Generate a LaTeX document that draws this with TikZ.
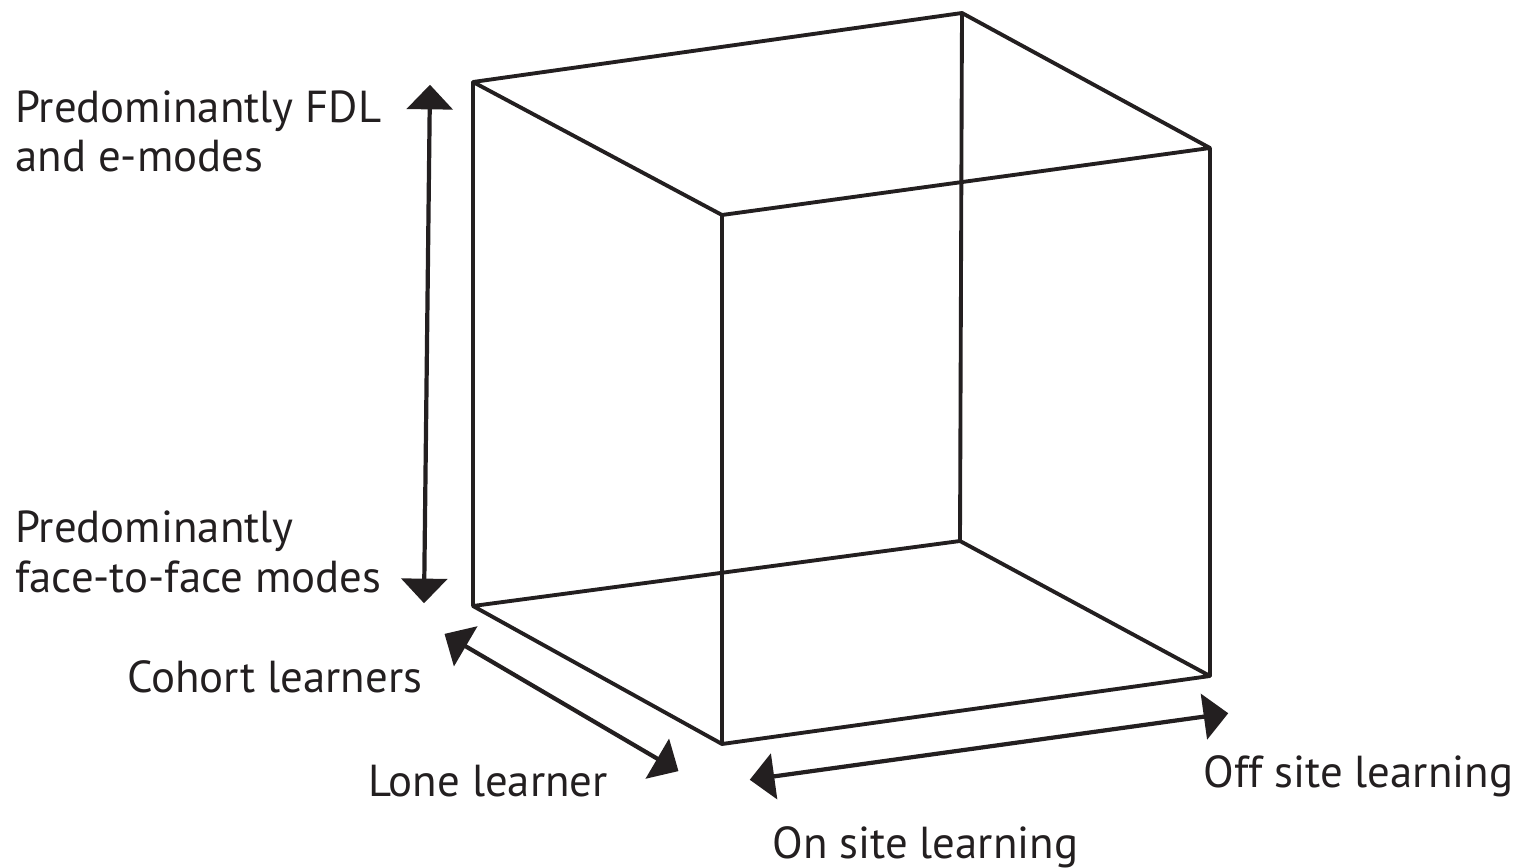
\documentclass[tikz,border=0pt]{standalone}
\usepackage{fontspec}
\setmainfont{PT Sans}
\usetikzlibrary{arrows.meta,positioning}
\definecolor{ink}{HTML}{231F20}

\begin{document}
\begin{tikzpicture}[x=0.02cm,y=-0.02cm,
  cube/.style={draw=ink,line width=2.2pt,line join=round},
  arrw/.style={{Triangle[width=26pt,length=14pt]}-{Triangle[width=26pt,length=14pt]},draw=ink,fill=ink,line width=2.4pt,shorten <=1pt,shorten >=1pt},
  lbl/.style={font=\fontsize{25.5}{28.3}\selectfont,text=ink,align=left,inner sep=0pt}]
\useasboundingbox (0,0) rectangle (1516,868);

% cube corners
\coordinate (tl) at (473,82);   \coordinate (tb) at (962,13);
\coordinate (tr) at (1210,148); \coordinate (tf) at (722,215);
\coordinate (bl) at (473,606);  \coordinate (bb) at (960,541);
\coordinate (br) at (1210,676); \coordinate (bf) at (722,744);

\draw[cube] (tl)--(tb)--(tr)--(tf)--cycle;
\draw[cube] (bl)--(bb)--(br)--(bf)--cycle;
\draw[cube] (tl)--(bl) (tb)--(bb) (tr)--(br) (tf)--(bf);

% axis arrows
\coordinate (vt) at (430,83);  \coordinate (vb) at (424,605);
\coordinate (dt) at (443,633); \coordinate (db) at (680,772);
\coordinate (hl) at (748,780); \coordinate (hr) at (1230,713);
\draw[arrw] (vb)--(vt);
\draw[arrw] (dt)--(db);
\draw[arrw] (hl)--(hr);

% two-line labels sit on the baseline of their last line
\node[lbl,anchor=base west] (fdl) at (15,172) {Predominantly FDL\\and e-modes};
\node[lbl,anchor=base west] (f2f) at (15,592) {Predominantly\\face-to-face modes};
\node[lbl,anchor=base west] (coh) at (127,692) {Cohort learners};
\node[lbl,anchor=base west] (lone) at (368,796) {Lone learner};
\node[lbl,anchor=base west] (off) at (1203,787) {Off site learning};
\node[lbl,anchor=base west] (on) at (772,858) {On site learning};
\end{tikzpicture}
\end{document}
